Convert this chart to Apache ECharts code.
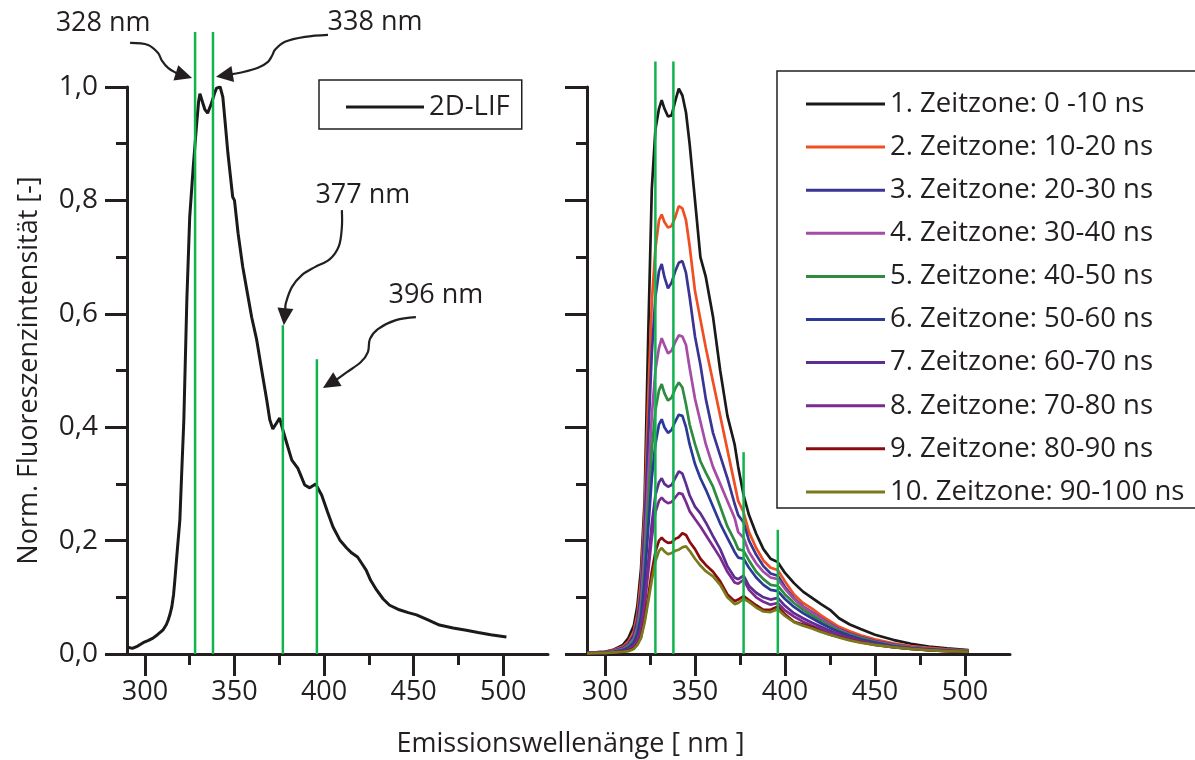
<!DOCTYPE html>
<html>
<head>
<meta charset="utf-8">
<script src="https://cdn.jsdelivr.net/npm/echarts@6/dist/echarts.min.js"></script>
<style>
  html, body { margin: 0; padding: 0; background: #ffffff; }
  #chart { width: 1195px; height: 760px; }
</style>
</head>
<body>
<div id="chart"></div>
<script>
// ---- Data -----------------------------------------------------------------

// Left panel: time-integrated 2D-LIF spectrum
const wavelengthLIF = [290.5, 293, 296, 299, 302, 304.5, 307, 310, 312, 313, 314, 315, 316, 316.7, 318, 319.5, 320.6, 321.7, 323.4, 325, 327, 329, 330, 330.7, 332, 333.5, 335, 337, 339, 340, 342, 343.5, 345, 346.3, 349, 350, 352, 354.6, 357, 359.6, 362.4, 365.8, 368, 369.7, 371.4, 373.4, 375.2, 377, 379.8, 382, 385.3, 387, 389.2, 392, 395.3, 398.7, 402, 405, 409, 412.6, 415.5, 418.7, 421, 423.5, 426, 429.3, 433, 436.6, 442, 447, 451.6, 458, 464.4, 472, 479.4, 486, 493, 501.8];
const intensityLIF = [0.012, 0.01, 0.014, 0.02, 0.024, 0.028, 0.034, 0.042, 0.052, 0.06, 0.07, 0.083, 0.105, 0.13, 0.18, 0.236, 0.325, 0.41, 0.624, 0.77, 0.86, 0.94, 0.975, 0.988, 0.975, 0.96, 0.954, 0.97, 0.99, 0.998, 1.0, 0.982, 0.93, 0.884, 0.806, 0.8, 0.742, 0.683, 0.64, 0.594, 0.554, 0.489, 0.448, 0.413, 0.397, 0.407, 0.416, 0.395, 0.365, 0.342, 0.328, 0.315, 0.298, 0.293, 0.3, 0.28, 0.25, 0.224, 0.2, 0.187, 0.178, 0.171, 0.16, 0.148, 0.13, 0.113, 0.097, 0.086, 0.078, 0.073, 0.069, 0.06, 0.051, 0.046, 0.042, 0.038, 0.034, 0.03];

// Right panel: time-resolved spectra, one per 10 ns time zone
const wavelengthZones = [290, 295, 300, 305, 310, 313, 316, 318, 320, 322, 324, 326, 328, 330, 331.5, 333, 335, 337, 339, 341, 343, 345, 347, 350, 353, 356, 360, 364, 368, 372, 374, 377, 380, 384, 388, 392, 396, 400, 405, 410, 415, 420, 425, 430, 436, 442, 450, 460, 470, 480, 490, 502];
const zone1 = [0.002, 0.003, 0.004, 0.008, 0.016, 0.028, 0.05, 0.085, 0.15, 0.27, 0.56, 0.82, 0.925, 0.962, 0.977, 0.962, 0.948, 0.95, 0.975, 0.997, 0.985, 0.955, 0.9, 0.8, 0.7, 0.665, 0.595, 0.5, 0.42, 0.37, 0.33, 0.28, 0.245, 0.212, 0.185, 0.168, 0.162, 0.143, 0.125, 0.11, 0.099, 0.088, 0.078, 0.063, 0.052, 0.044, 0.034, 0.025, 0.018, 0.013, 0.01, 0.007];
const zone2 = [0.002, 0.003, 0.004, 0.007, 0.013, 0.022, 0.04, 0.07, 0.13, 0.25, 0.45, 0.62, 0.715, 0.765, 0.775, 0.762, 0.752, 0.755, 0.77, 0.79, 0.786, 0.765, 0.72, 0.64, 0.59, 0.54, 0.48, 0.42, 0.36, 0.3, 0.27, 0.25, 0.215, 0.187, 0.165, 0.152, 0.148, 0.128, 0.105, 0.09, 0.08, 0.068, 0.058, 0.048, 0.04, 0.033, 0.026, 0.019, 0.014, 0.011, 0.008, 0.006];
const zone3 = [0.002, 0.003, 0.004, 0.006, 0.011, 0.018, 0.033, 0.06, 0.11, 0.22, 0.38, 0.53, 0.63, 0.675, 0.688, 0.665, 0.645, 0.655, 0.675, 0.69, 0.693, 0.672, 0.63, 0.56, 0.51, 0.45, 0.39, 0.35, 0.31, 0.265, 0.245, 0.232, 0.2, 0.175, 0.155, 0.142, 0.138, 0.118, 0.098, 0.084, 0.074, 0.063, 0.053, 0.044, 0.036, 0.03, 0.023, 0.017, 0.012, 0.009, 0.007, 0.005];
const zone4 = [0.002, 0.002, 0.003, 0.005, 0.009, 0.015, 0.027, 0.048, 0.09, 0.18, 0.31, 0.42, 0.5, 0.54, 0.557, 0.545, 0.53, 0.535, 0.55, 0.562, 0.56, 0.545, 0.505, 0.45, 0.41, 0.37, 0.33, 0.3, 0.27, 0.24, 0.215, 0.205, 0.18, 0.16, 0.145, 0.135, 0.132, 0.115, 0.097, 0.083, 0.073, 0.062, 0.052, 0.043, 0.035, 0.029, 0.022, 0.016, 0.012, 0.009, 0.007, 0.005];
const zone5 = [0.002, 0.002, 0.003, 0.004, 0.008, 0.013, 0.023, 0.04, 0.075, 0.15, 0.26, 0.36, 0.43, 0.465, 0.476, 0.46, 0.447, 0.452, 0.468, 0.479, 0.47, 0.44, 0.405, 0.37, 0.34, 0.32, 0.295, 0.26, 0.225, 0.2, 0.185, 0.182, 0.165, 0.145, 0.132, 0.122, 0.12, 0.105, 0.09, 0.078, 0.068, 0.058, 0.049, 0.041, 0.034, 0.028, 0.021, 0.015, 0.011, 0.008, 0.006, 0.005];
const zone6 = [0.002, 0.002, 0.003, 0.004, 0.007, 0.011, 0.02, 0.035, 0.065, 0.13, 0.22, 0.31, 0.37, 0.405, 0.414, 0.4, 0.39, 0.395, 0.41, 0.422, 0.42, 0.4, 0.37, 0.335, 0.31, 0.29, 0.26, 0.23, 0.205, 0.18, 0.17, 0.168, 0.152, 0.135, 0.122, 0.113, 0.111, 0.097, 0.083, 0.072, 0.063, 0.054, 0.046, 0.039, 0.032, 0.026, 0.02, 0.014, 0.01, 0.008, 0.006, 0.004];
const zone7 = [0.002, 0.002, 0.002, 0.003, 0.005, 0.008, 0.015, 0.026, 0.048, 0.095, 0.16, 0.23, 0.28, 0.303, 0.31, 0.3, 0.295, 0.298, 0.31, 0.322, 0.318, 0.3, 0.28, 0.26, 0.248, 0.232, 0.208, 0.185, 0.155, 0.135, 0.132, 0.138, 0.12, 0.108, 0.1, 0.096, 0.099, 0.085, 0.072, 0.063, 0.055, 0.048, 0.041, 0.035, 0.029, 0.024, 0.018, 0.013, 0.01, 0.007, 0.006, 0.004];
const zone8 = [0.002, 0.002, 0.002, 0.003, 0.005, 0.008, 0.014, 0.024, 0.044, 0.085, 0.145, 0.205, 0.25, 0.27, 0.276, 0.27, 0.266, 0.268, 0.276, 0.284, 0.282, 0.268, 0.252, 0.238, 0.225, 0.21, 0.19, 0.17, 0.145, 0.126, 0.124, 0.131, 0.113, 0.1, 0.092, 0.087, 0.09, 0.077, 0.066, 0.057, 0.05, 0.044, 0.038, 0.033, 0.027, 0.022, 0.017, 0.012, 0.009, 0.007, 0.005, 0.004];
const zone9 = [0.001, 0.002, 0.002, 0.003, 0.004, 0.006, 0.01, 0.017, 0.03, 0.06, 0.1, 0.145, 0.18, 0.2, 0.205, 0.2, 0.196, 0.197, 0.203, 0.206, 0.213, 0.21, 0.198, 0.185, 0.168, 0.157, 0.145, 0.128, 0.105, 0.093, 0.096, 0.102, 0.095, 0.086, 0.078, 0.078, 0.084, 0.07, 0.057, 0.052, 0.047, 0.04, 0.034, 0.03, 0.025, 0.021, 0.016, 0.012, 0.009, 0.007, 0.005, 0.004];
const zone10 = [0.001, 0.002, 0.002, 0.003, 0.004, 0.005, 0.009, 0.016, 0.028, 0.055, 0.092, 0.13, 0.163, 0.182, 0.187, 0.181, 0.176, 0.178, 0.182, 0.184, 0.188, 0.19, 0.182, 0.168, 0.156, 0.146, 0.137, 0.122, 0.1, 0.088, 0.09, 0.097, 0.092, 0.082, 0.075, 0.074, 0.079, 0.067, 0.056, 0.05, 0.045, 0.039, 0.034, 0.029, 0.024, 0.02, 0.016, 0.012, 0.009, 0.007, 0.005, 0.004];
const zoneNames = [
  '1. Zeitzone: 0 -10 ns', '2. Zeitzone: 10-20 ns', '3. Zeitzone: 20-30 ns',
  '4. Zeitzone: 30-40 ns', '5. Zeitzone: 40-50 ns', '6. Zeitzone: 50-60 ns',
  '7. Zeitzone: 60-70 ns', '8. Zeitzone: 70-80 ns', '9. Zeitzone: 80-90 ns',
  '10. Zeitzone: 90-100 ns'
];
const zoneValues = [zone1, zone2, zone3, zone4, zone5, zone6, zone7, zone8, zone9, zone10];

// Characteristic emission bands (green marker lines) and how high each is drawn
const bandNm = [328, 338, 377, 396];
const bandTopLIF = [1.097, 1.097, 0.58, 0.52];
const bandTopZones = [1.045, 1.045, 0.356, 0.219];
const bandLabels = ['328 nm', '338 nm', '377 nm', '396 nm'];
// Intensity level each annotation arrow points at in the left panel
const arrowTargetValue = [1.016, 1.018, 0.58, 0.469];

// Axis ticks
const xRange = [290, 525];
const xMajorTicks = [300, 350, 400, 450, 500];
const xMinorTicks = [325, 375, 425, 475];
const yRange = [0, 1];
const yStep = 0.2;

// ---- Styles ---------------------------------------------------------------
const INK = '#231f20';
const GREEN = '#12b24f';
const FONT = '"Open Sans", "Noto Sans", sans-serif';
const FS = 27;
const zoneColors = ['#1a1a1a', '#f04e23', '#3a3592', '#a54ca6', '#2e8b3f',
                    '#2b3997', '#5d2d91', '#7b2a8f', '#8a0c0c', '#7a7a1c'];

// Arrow shapes in pixels, relative to the arrow tip; label centre likewise
const arrowStyle = [
  { dx: -3, pts: [[-62,-35],[-44,-33],[-34,-25],[-30,-17],[-24,-10],[-16,-5],[0,0]], text: [-89,-55] },
  { dx: 3,  pts: [[112,-42],[89,-40],[69,-35],[59,-27],[56,-21],[52,-15],[42,-9],[24,-4],[0,0]], text: [159,-54] },
  { dx: 1,  pts: [[58,-115],[58,-98],[55,-79],[46,-66],[31,-58],[18,-50],[8,-38],[2,-22],[0,0]], text: [79,-130] },
  { dx: 6,  pts: [[93,-71],[73,-68],[55,-59],[47,-49],[45,-36],[38,-26],[24,-16],[13,-8],[0,0]], text: [113,-93] }
];

// Frame of the time-zone legend; it runs off the right edge of the canvas
const zoneLegendFrame = { x: 777, y: 71, width: 480, height: 437 };

// ---- Chart ----------------------------------------------------------------
const chart = echarts.init(document.getElementById('chart'), null, { renderer: 'canvas' });

function majorXAxis(gridIndex) {
  return {
    type: 'value', gridIndex, position: 'bottom', min: xRange[0], max: xRange[1],
    axisLine: { show: true, onZero: false, lineStyle: { color: INK, width: 3 } },
    axisTick: { show: true, customValues: xMajorTicks, length: 22, lineStyle: { color: INK, width: 3 } },
    axisLabel: { show: true, customValues: xMajorTicks, margin: 25, fontSize: FS, color: INK, fontFamily: FONT },
    splitLine: { show: false }
  };
}
function minorXAxis(gridIndex) {
  return {
    type: 'value', gridIndex, position: 'bottom', min: xRange[0], max: xRange[1],
    axisLine: { show: false },
    axisTick: { show: true, customValues: xMinorTicks, length: 11, lineStyle: { color: INK, width: 3 } },
    axisLabel: { show: false },
    splitLine: { show: false }
  };
}
function yAxisFor(gridIndex, withLabels) {
  return {
    type: 'value', gridIndex, min: yRange[0], max: yRange[1], interval: yStep,
    name: withLabels ? 'Norm. Fluoreszenzintensität [-]' : '',
    nameLocation: 'middle', nameGap: 84,
    nameTextStyle: { fontSize: FS, color: INK, fontFamily: FONT },
    axisLine: { show: true, onZero: false, lineStyle: { color: INK, width: 3 } },
    axisTick: { show: true, length: 22, lineStyle: { color: INK, width: 3 } },
    minorTick: { show: true, splitNumber: 2, length: 11, lineStyle: { color: INK, width: 3 } },
    axisLabel: {
      show: withLabels, margin: 29, fontSize: 28, color: INK, fontFamily: FONT,
      formatter: v => v.toFixed(1).replace('.', ',')
    },
    splitLine: { show: false },
    minorSplitLine: { show: false }
  };
}

const pairs = (xs, ys) => xs.map((x, i) => [x, ys[i]]);

const series = [];
series.push({
  type: 'line', name: '2D-LIF', xAxisIndex: 0, yAxisIndex: 0,
  data: pairs(wavelengthLIF, intensityLIF),
  symbol: 'none', lineStyle: { color: '#1a1a1a', width: 3 }, itemStyle: { color: '#1a1a1a' },
  z: 3
});
zoneValues.forEach((vals, i) => {
  series.push({
    type: 'line', name: zoneNames[i], xAxisIndex: 2, yAxisIndex: 1,
    data: pairs(wavelengthZones, vals),
    symbol: 'none', lineStyle: { color: zoneColors[i], width: 2.7 }, itemStyle: { color: zoneColors[i] },
    z: 3
  });
});
bandNm.forEach((nm, i) => {
  series.push({
    type: 'line', xAxisIndex: 0, yAxisIndex: 0, data: [[nm, 0], [nm, bandTopLIF[i]]],
    symbol: 'none', clip: false, silent: true, lineStyle: { color: GREEN, width: 2.5 }, z: 5
  });
  series.push({
    type: 'line', xAxisIndex: 2, yAxisIndex: 1, data: [[nm, 0], [nm, bandTopZones[i]]],
    symbol: 'none', clip: false, silent: true, lineStyle: { color: GREEN, width: 2.5 }, z: 5
  });
});

const legendText = { fontSize: 27.5, color: INK, fontFamily: FONT, lineHeight: 27 };

chart.setOption({
  animation: false,
  backgroundColor: '#ffffff',
  grid: [
    { left: 127, top: 87, width: 421, height: 567 },
    { left: 587, top: 87, width: 423, height: 567 }
  ],
  xAxis: [majorXAxis(0), minorXAxis(0), majorXAxis(1), minorXAxis(1)],
  yAxis: [yAxisFor(0, true), yAxisFor(1, false)],
  legend: [
    {
      data: ['2D-LIF'], orient: 'vertical', left: 319, top: 80,
      icon: 'rect', itemWidth: 78, itemHeight: 3, padding: [13, 12, 8, 27],
      borderColor: INK, borderWidth: 1.5, selectedMode: false, textStyle: legendText
    },
    {
      data: zoneNames, orient: 'vertical', left: 777, top: 71,
      icon: 'rect', itemWidth: 79, itemHeight: 3, itemGap: 15.1, padding: [19, 10, 5, 29],
      borderWidth: 0, selectedMode: false, textStyle: legendText
    }
  ],
  series
});

// Annotation arrows pointing at the band lines, anchored through the axes
const graphics = [];
bandNm.forEach((nm, i) => {
  const p = chart.convertToPixel({ xAxisIndex: 0, yAxisIndex: 0 }, [nm, arrowTargetValue[i]]);
  const st = arrowStyle[i];
  const tip = [p[0] + st.dx, p[1]];
  const pts = st.pts.map(d => [tip[0] + d[0], tip[1] + d[1]]);
  const prev = pts[pts.length - 2];
  let ux = tip[0] - prev[0], uy = tip[1] - prev[1];
  const len = Math.hypot(ux, uy); ux /= len; uy /= len;
  const L = 17, W = 8;
  const base = [tip[0] - ux * L, tip[1] - uy * L];
  const body = pts.slice(0, -1).concat([[tip[0] - ux * (L - 2), tip[1] - uy * (L - 2)]]);
  graphics.push({
    type: 'polyline', silent: true, z: 10,
    shape: { points: body, smooth: 0.35 },
    style: { stroke: INK, lineWidth: 2.2, fill: null }
  });
  graphics.push({
    type: 'polygon', silent: true, z: 10,
    shape: { points: [tip, [base[0] - uy * W, base[1] + ux * W], [base[0] + uy * W, base[1] - ux * W]] },
    style: { fill: INK }
  });
  graphics.push({
    type: 'text', silent: true, z: 10,
    x: tip[0] + st.text[0], y: tip[1] + st.text[1],
    style: {
      text: bandLabels[i], fill: INK, fontSize: FS, fontFamily: FONT,
      align: 'center', verticalAlign: 'middle', textAlign: 'center', textVerticalAlign: 'middle'
    }
  });
});

// Legend frame for the time zones
graphics.push({
  type: 'rect', silent: true, z: 1,
  shape: { ...zoneLegendFrame },
  style: { fill: null, stroke: INK, lineWidth: 1.5 }
});

// Shared x-axis title centred under both panels
const leftEdge = chart.convertToPixel({ xAxisIndex: 0 }, xRange[0]);
const rightEdge = chart.convertToPixel({ xAxisIndex: 2 }, xRange[1]);
graphics.push({
  type: 'text', silent: true,
  x: (leftEdge + rightEdge) / 2 + 2, y: 744,
  style: {
    text: 'Emissionswellenänge [ nm ]', fill: INK, fontSize: FS, fontFamily: FONT,
    align: 'center', verticalAlign: 'middle', textAlign: 'center', textVerticalAlign: 'middle'
  }
});

chart.setOption({ graphic: graphics });
</script>
</body>
</html>
